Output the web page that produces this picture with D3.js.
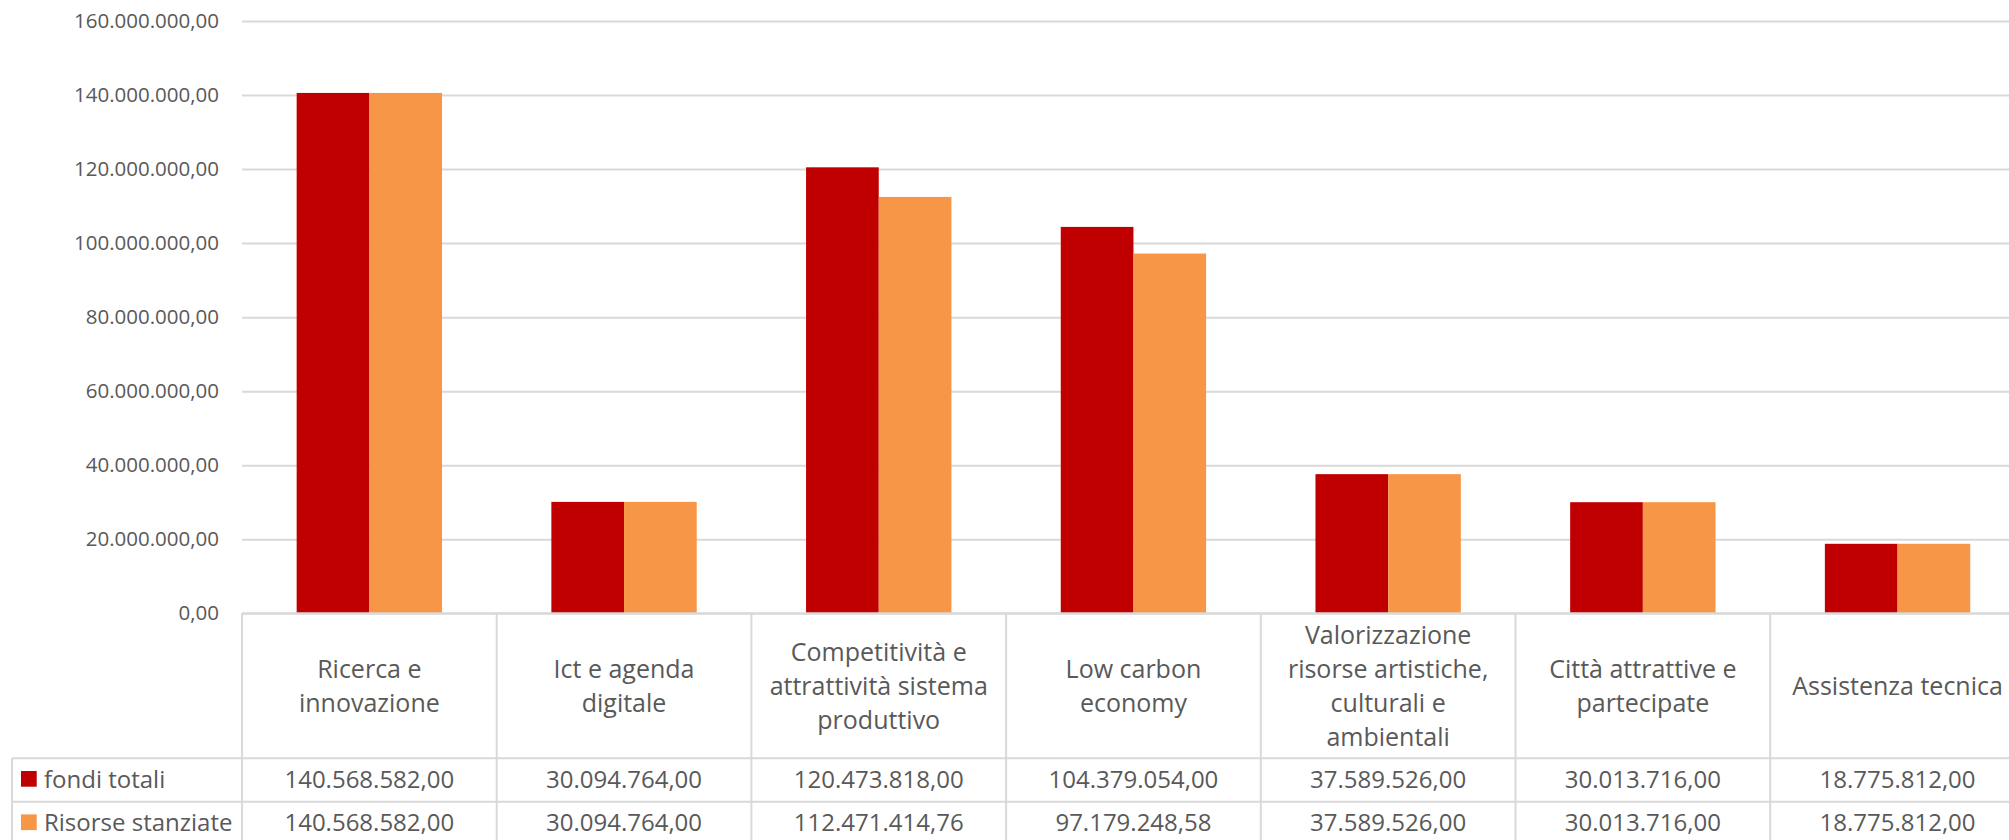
<!DOCTYPE html>
<html>
<head>
<meta charset="utf-8">
<script src="https://cdn.jsdelivr.net/npm/d3@7"></script>
<style>
    body { margin: 0; background: #fff; overflow: hidden; }
    text { font-family: "Open Sans", sans-serif; fill: #595959; }
</style>
</head>
<body>
<svg id="chart"></svg>
<script>
'use strict';

// data
var categoryLines = [
    ["Ricerca e", "innovazione"],
    ["Ict e agenda", "digitale"],
    ["Competitività e", "attrattività sistema", "produttivo"],
    ["Low carbon", "economy"],
    ["Valorizzazione", "risorse artistiche,", "culturali e", "ambientali"],
    ["Città attrattive e", "partecipate"],
    ["Assistenza tecnica"]
];
var categories = categoryLines.map(function(l) { return l.join(" "); });
var seriesNames = ["fondi totali", "Risorse stanziate"];
var seriesColors = ["#C00000", "#F79646"];
var fondiTotali = [140568582, 30094764, 120473818, 104379054, 37589526, 30013716, 18775812];
var risorseStanziate = [140568582, 30094764, 112471414.76, 97179248.58, 37589526, 30013716, 18775812];
var yTicks = [0, 20000000, 40000000, 60000000, 80000000, 100000000, 120000000, 140000000, 160000000];

var seriesValues = [fondiTotali, risorseStanziate];

var width = 2009, height = 840;
var plotLeft = 242, bandW = 254.7;
var plotRight = plotLeft + bandW * categories.length;
var yTop = 21, yBase = 613.3;
var headerBottom = 758.3, rowH = 43.4;
var gridColor = "#d9d9d9";

var itLocale = d3.formatLocale({ decimal: ",", thousands: ".", grouping: [3], currency: ["€", ""] });
var fmt = itLocale.format(",.2f");

var svg = d3.select("#chart").attr("width", width).attr("height", height);

var x = d3.scaleBand().domain(categories).range([plotLeft, plotRight]).padding(0);
var xSub = d3.scaleBand().domain(seriesNames).range([0, x.bandwidth()]).paddingInner(0).paddingOuter(0.752);
var y = d3.scaleLinear().domain([0, 160000000]).range([yBase, yTop]);

// gridlines
var grid = svg.append("g")
    .attr("transform", "translate(" + plotLeft + ",0)")
    .call(d3.axisRight(y).tickValues(yTicks).tickSize(plotRight - plotLeft).tickFormat(""));
grid.select(".domain").remove();
grid.selectAll("line").attr("stroke", gridColor).attr("stroke-width", 2);

// y axis labels
var yAxis = svg.append("g")
    .attr("transform", "translate(" + plotLeft + ",0)")
    .call(d3.axisLeft(y).tickValues(yTicks).tickSize(0).tickPadding(23).tickFormat(fmt));
yAxis.select(".domain").remove();
yAxis.selectAll("text").style("font-size", "20.5px").attr("fill", "#595959");

// bars
var groups = svg.selectAll(".cat")
    .data(categories)
    .enter().append("g")
    .attr("transform", function(d) { return "translate(" + x(d) + ",0)"; });

groups.selectAll("rect")
    .data(function(d, i) {
        return seriesNames.map(function(s, j) { return { series: s, value: seriesValues[j][i], color: seriesColors[j] }; });
    })
    .enter().append("rect")
    .attr("x", function(d) { return xSub(d.series); })
    .attr("width", xSub.bandwidth())
    .attr("y", function(d) { return y(d.value); })
    .attr("height", function(d) { return yBase - y(d.value); })
    .attr("fill", function(d) { return d.color; });

// data table lines
var table = svg.append("g");
table.append("line")
    .attr("x1", plotLeft).attr("x2", plotRight).attr("y1", yBase).attr("y2", yBase);
[headerBottom, headerBottom + rowH, headerBottom + 2 * rowH].forEach(function(yy) {
    table.append("line").attr("x1", 12).attr("x2", plotRight).attr("y1", yy).attr("y2", yy);
});
table.append("line").attr("x1", 12).attr("x2", 12).attr("y1", headerBottom).attr("y2", height);
categories.concat([null]).forEach(function(c) {
    var xx = c === null ? plotRight : x(c);
    table.append("line").attr("x1", xx).attr("x2", xx).attr("y1", yBase).attr("y2", height);
});
table.selectAll("line").attr("stroke", gridColor).attr("stroke-width", 2);

// category labels
var lineH = 34, labelMid = 695;
groups.append("text")
    .attr("text-anchor", "middle")
    .style("font-size", "25px")
    .each(function(d, i) {
        var lines = categoryLines[i];
        var t = d3.select(this);
        lines.forEach(function(l, k) {
            t.append("tspan")
                .attr("x", x.bandwidth() / 2)
                .attr("y", labelMid + (k - (lines.length - 1) / 2) * lineH)
                .text(l);
        });
    });

// values rows
seriesNames.forEach(function(s, j) {
    var base = headerBottom + j * rowH + 29.6;
    groups.append("text")
        .attr("x", x.bandwidth() / 2)
        .attr("y", base)
        .attr("text-anchor", "middle")
        .style("font-size", "24px")
        .text(function(d, i) { return fmt(seriesValues[j][i]); });

    svg.append("rect")
        .attr("x", 21).attr("y", headerBottom + j * rowH + 12.7)
        .attr("width", 15.7).attr("height", 15.7)
        .attr("fill", seriesColors[j]);
    svg.append("text")
        .attr("x", 44).attr("y", base)
        .style("font-size", "24px")
        .text(s);
});
</script>
</body>
</html>
